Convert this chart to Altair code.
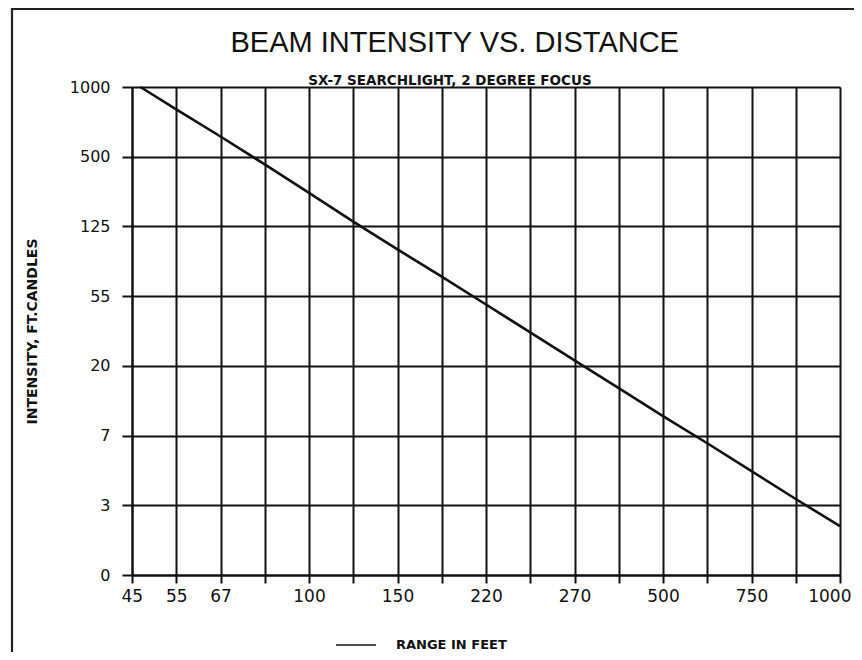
import altair as alt
import pandas as pd

# chart texts
title_text = "BEAM INTENSITY VS. DISTANCE"
subtitle_text = "SX-7 SEARCHLIGHT, 2 DEGREE FOCUS"
y_title = "INTENSITY, FT.CANDLES"
series_name = "RANGE IN FEET"

# x grid positions (index along the irregular range axis) and their tick labels
x_tick_index = list(range(17))
x_tick_labels = ["45", "55", "67", "", "100", "", "150", "", "220", "", "270", "", "500", "", "750", "", "1000"]

# y grid positions and labels (intensity, ft-candles)
y_tick_index = list(range(8))
y_tick_labels = ["0", "3", "7", "20", "55", "125", "500", "1000"]

# beam-intensity curve (x in grid steps, y in grid steps)
curve_x = [0.19, 1, 2, 3, 4, 5, 6, 7, 8, 9, 10, 11, 12, 13, 14, 15, 16]
curve_y = [7.00, 6.68, 6.29, 5.89, 5.48, 5.07, 4.67, 4.28, 3.88, 3.48, 3.08, 2.68, 2.28, 1.89, 1.49, 1.09, 0.70]

df = pd.DataFrame({"x": curve_x, "y": curve_y, "series": series_name})


def label_expr(labels):
    expr = "''"
    for i in reversed(range(len(labels))):
        expr = f"datum.value == {i} ? '{labels[i]}' : ({expr})"
    return expr


W, H = 708, 488
PL, PT = 124, 79
PR = 846 - PL - W
PB = 644 - PT - H

x_axis = alt.Axis(
    values=x_tick_index, labelExpr=label_expr(x_tick_labels), title=None,
    grid=True, gridColor="#111", gridWidth=2, gridOpacity=1,
    domain=True, domainColor="#111", domainWidth=2,
    ticks=True, tickSize=8, tickColor="#111", tickWidth=2,
    labelFont="DejaVu Sans", labelFontSize=17, labelColor="#111", labelPadding=5,
    labelFlush=True, labelFlushOffset=11, labelOverlap=False, labelBound=False,
)
y_axis = alt.Axis(
    values=y_tick_index, labelExpr=label_expr(y_tick_labels),
    title=y_title, titleFont="DejaVu Sans", titleFontWeight="bold",
    titleFontSize=14, titleColor="#111", titleX=-100, titleY=H / 2, titleAngle=270,
    titleAlign="center", titleBaseline="middle",
    grid=True, gridColor="#111", gridWidth=2, gridOpacity=1,
    domain=True, domainColor="#111", domainWidth=2,
    ticks=True, tickSize=10, tickColor="#111", tickWidth=2,
    labelFont="DejaVu Sans", labelFontSize=16, labelColor="#111", labelPadding=12,
    labelFlush=False, labelOverlap=False, labelBound=False,
)

line = alt.Chart(df).mark_line(strokeWidth=2.6, clip=False).encode(
    x=alt.X("x:Q", scale=alt.Scale(domain=[0, 16], nice=False, zero=False), axis=x_axis),
    y=alt.Y("y:Q", scale=alt.Scale(domain=[0, 7], nice=False, zero=False), axis=y_axis),
    color=alt.Color(
        "series:N",
        scale=alt.Scale(range=["#111"]),
        legend=alt.Legend(
            orient="none", legendX=203, legendY=537, title=None, padding=0,
            symbolType="stroke", symbolSize=1600, symbolStrokeWidth=1.6,
            symbolStrokeColor="#111",
            labelFont="DejaVu Sans", labelFontWeight="bold", labelFontSize=13,
            labelColor="#111", labelOffset=19,
        ),
    ),
)

one = pd.DataFrame({"t": [title_text], "s": [subtitle_text]})

frame = alt.Chart(one).mark_rect(
    fill=None, fillOpacity=0, stroke="#222", strokeWidth=2.2, clip=False
).encode(
    x=alt.value(-120), x2=alt.value(760), y=alt.value(-78), y2=alt.value(640)
)

title = alt.Chart(one).mark_text(
    font="Liberation Sans", fontSize=29, fontWeight="normal", color="#111",
    align="center", baseline="alphabetic",
).encode(text="t:N", x=alt.value(322.7), y=alt.value(-35.3))

subtitle = alt.Chart(one).mark_text(
    font="DejaVu Sans", fontSize=13.5, fontWeight="bold", color="#111",
    align="center", baseline="alphabetic",
).encode(text="s:N", x=alt.value(318), y=alt.value(-2))

chart = alt.layer(frame, title, subtitle, line).properties(
    width=W, height=H,
    autosize=alt.AutoSizeParams(type="none"),
    padding={"left": PL, "top": PT, "right": PR, "bottom": PB},
).configure_view(strokeWidth=0).configure(background="white")

chart.save("out.html", embed_options={"renderer": "svg", "actions": False})
